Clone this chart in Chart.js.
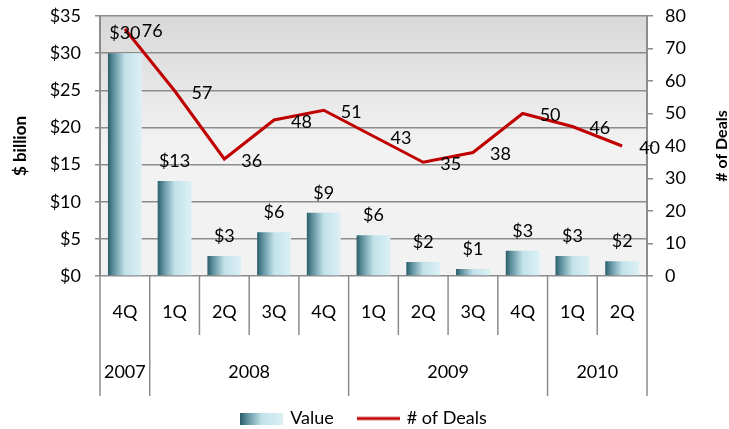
<!DOCTYPE html>
<html>
<head>
<meta charset="utf-8">
<script src="https://cdn.jsdelivr.net/npm/chart.js@4/dist/chart.umd.min.js"></script>
<style>
  html, body { margin: 0; padding: 0; background: #fff; }
</style>
</head>
<body>
<canvas id="dealsChart" width="729" height="429"></canvas>
<script>
// data
var quarters = ['4Q', '1Q', '2Q', '3Q', '4Q', '1Q', '2Q', '3Q', '4Q', '1Q', '2Q'];
var years = ['2007', '2008', '2009', '2010'];
var quartersPerYear = [1, 4, 4, 2];
var dealValue = [30, 12.8, 2.7, 5.9, 8.5, 5.5, 1.9, 0.95, 3.4, 2.7, 2.0]; // $ billion
var dealCount = [76, 57, 36, 48, 51, 43, 35, 38, 50, 46, 40];         // # of deals

var gridColor = '#8c8c8c';
var fontFamily = 'Lato, "Open Sans", sans-serif';

function barGradient(ctx, x0, x1) {
  var g = ctx.createLinearGradient(x0, 0, x1, 0);
  g.addColorStop(0, '#2b5d6b');
  g.addColorStop(0.15, '#5a8d9a');
  g.addColorStop(0.5, '#c2e2ea');
  g.addColorStop(1, '#dcf0f5');
  return g;
}

// little pictures for the legend
function swatchBar() {
  var c = document.createElement('canvas');
  c.width = 43; c.height = 12;
  var cx = c.getContext('2d');
  cx.fillStyle = barGradient(cx, 0, 43);
  cx.fillRect(0, 0, 43, 12);
  return c;
}
function swatchLine() {
  var c = document.createElement('canvas');
  c.width = 43; c.height = 12;
  var cx = c.getContext('2d');
  cx.strokeStyle = '#c00000';
  cx.lineWidth = 3;
  cx.beginPath(); cx.moveTo(0, 6); cx.lineTo(43, 6); cx.stroke();
  return c;
}

// no half-label overhang on the value axes, so layout.padding sets the plot top
function fixAxis(width) {
  return function (s) {
    s.width = width;
    s.paddingTop = 0;
    s.paddingBottom = 0;
  };
}

var decor = {
  id: 'decor',
  beforeDraw: function (chart) {
    var ctx = chart.ctx, a = chart.chartArea;
    var bg = ctx.createLinearGradient(0, a.top, 0, a.bottom);
    bg.addColorStop(0, '#d8d8d8');
    bg.addColorStop(0.5, '#f2f2f2');
    bg.addColorStop(1, '#f2f2f2');
    ctx.save();
    ctx.fillStyle = bg;
    ctx.fillRect(a.left, a.top, a.right - a.left, a.bottom - a.top);
    ctx.restore();
  },
  beforeDatasetsDraw: function (chart) {
    chart.getDatasetMeta(0).data.forEach(function (bar) {
      bar.options.backgroundColor = barGradient(chart.ctx, bar.x - bar.width / 2, bar.x + bar.width / 2);
    });
  },
  afterDatasetsDraw: function (chart) {
    var ctx = chart.ctx;
    ctx.save();
    ctx.font = '18px ' + fontFamily;
    ctx.fillStyle = '#000';
    ctx.textBaseline = 'middle';
    // bar labels
    ctx.textAlign = 'center';
    chart.getDatasetMeta(0).data.forEach(function (bar, i) {
      ctx.fillText('$' + Math.round(dealValue[i]), bar.x, bar.y - 20);
    });
    // line labels, to the right of each point
    ctx.textAlign = 'left';
    chart.getDatasetMeta(1).data.forEach(function (pt, i) {
      ctx.fillText(dealCount[i], pt.x + 17, pt.y + 2);
    });
    ctx.restore();
  },
  afterDraw: function (chart) {
    var ctx = chart.ctx, a = chart.chartArea, x = chart.scales.x;
    var step = x.getPixelForValue(1) - x.getPixelForValue(0);
    var start = x.getPixelForValue(0) - step / 2;
    var edges = [0];
    quartersPerYear.forEach(function (n) { edges.push(edges[edges.length - 1] + n); });

    ctx.save();
    ctx.strokeStyle = gridColor;
    ctx.lineWidth = 1.5;
    for (var i = 0; i <= quarters.length; i++) {
      var px = start + i * step;
      var full = edges.indexOf(i) >= 0;
      ctx.beginPath();
      ctx.moveTo(px, a.bottom);
      ctx.lineTo(px, a.bottom + (full ? 120 : 59));
      ctx.stroke();
    }
    ctx.font = '18px ' + fontFamily;
    ctx.fillStyle = '#000';
    ctx.textAlign = 'center';
    ctx.textBaseline = 'middle';
    quarters.forEach(function (q, i) {
      ctx.fillText(q, x.getPixelForValue(i), a.bottom + 36);
    });
    years.forEach(function (y, k) {
      var mid = start + (edges[k] + edges[k + 1]) / 2 * step;
      ctx.fillText(y, mid, a.bottom + 96);
    });
    // right axis title reads bottom to top, like the left one
    ctx.font = 'bold 16px ' + fontFamily;
    ctx.translate(722, (a.top + a.bottom) / 2);
    ctx.rotate(-Math.PI / 2);
    ctx.fillText('# of Deals', 0, 0);
    ctx.restore();
  }
};

Chart.defaults.font.family = fontFamily;
Chart.defaults.font.size = 18;
Chart.defaults.color = '#000';

var ctx = document.getElementById('dealsChart').getContext('2d');
var dealsChart = new Chart(ctx, {
  data: {
    labels: quarters,
    datasets: [{
      type: 'bar',
      label: 'Value',
      data: dealValue,
      yAxisID: 'y',
      order: 1,
      backgroundColor: function () { return '#9cc'; },
      categoryPercentage: 1,
      barPercentage: 0.68
    }, {
      type: 'line',
      label: '# of Deals',
      data: dealCount,
      yAxisID: 'y1',
      order: 0,
      borderColor: '#c00000',
      borderWidth: 3,
      pointRadius: 0,
      tension: 0
    }]
  },
  options: {
    responsive: false,
    animation: false,
    layout: { padding: { top: 16, left: 0, right: 0, bottom: -8.5 } },
    scales: {
      x: {
        ticks: { display: false },
        grid: { display: false },
        border: { display: false },
        afterFit: function (s) { s.height = 108.5; }
      },
      y: {
        position: 'left',
        min: 0, max: 35,
        ticks: { stepSize: 5, padding: 14, callback: function (v) { return '$' + v; } },
        grid: { color: gridColor, lineWidth: 1.5, tickLength: 5 },
        border: { color: gridColor, width: 2 },
        title: { display: true, text: '$ billion', font: { size: 17, weight: 'bold' }, padding: { top: 10, bottom: 0 } },
        afterFit: fixAxis(100)
      },
      y1: {
        position: 'right',
        min: 0, max: 80,
        ticks: { stepSize: 10, padding: 12 },
        grid: { drawOnChartArea: false, color: gridColor, lineWidth: 1.5, tickLength: 6 },
        border: { color: gridColor, width: 2 },
        afterFit: fixAxis(82)
      }
    },
    plugins: {
      tooltip: { enabled: false },
      legend: {
        position: 'bottom',
        labels: {
          usePointStyle: true,
          pointStyleWidth: 39,
          boxHeight: 12,
          padding: 25,
          generateLabels: function () {
            return [
              { text: 'Value', pointStyle: swatchBar(), fontColor: '#000', datasetIndex: 0 },
              { text: '# of Deals', pointStyle: swatchLine(), fontColor: '#000', datasetIndex: 1 }
            ];
          }
        }
      }
    }
  },
  plugins: [decor]
});
</script>
</body>
</html>
